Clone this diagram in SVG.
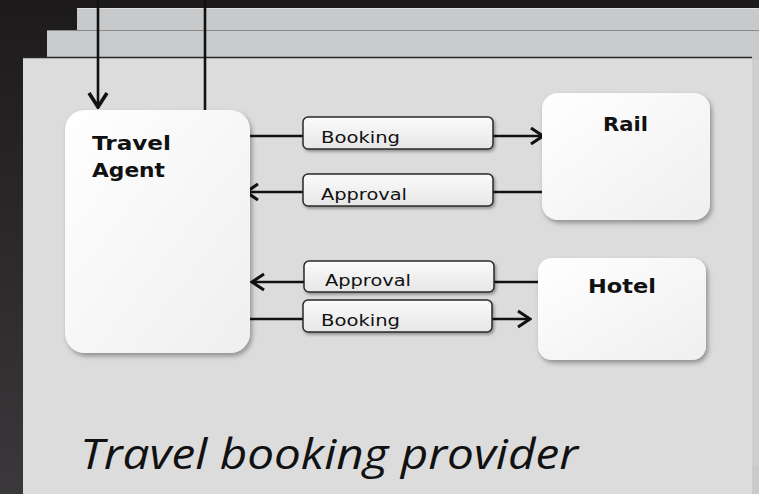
<svg xmlns="http://www.w3.org/2000/svg" width="759" height="494" viewBox="0 0 759 494">
<defs>
<linearGradient id="bg" x1="0" y1="0" x2="0" y2="1">
<stop offset="0" stop-color="#1c1a1b"/><stop offset="1" stop-color="#3a383a"/>
</linearGradient>
<linearGradient id="nodefill" x1="0" y1="0" x2="1" y2="1">
<stop offset="0" stop-color="#ffffff"/><stop offset="1" stop-color="#efefef"/>
</linearGradient>
<linearGradient id="lblfill" x1="0" y1="0" x2="0" y2="1">
<stop offset="0" stop-color="#fbfbfb"/><stop offset="1" stop-color="#e6e6e6"/>
</linearGradient>
<filter id="sh" x="-10%" y="-10%" width="125%" height="125%">
<feDropShadow dx="2" dy="3" stdDeviation="2.5" flood-color="#000" flood-opacity="0.35"/>
</filter>
<filter id="shs" x="-10%" y="-20%" width="120%" height="160%">
<feDropShadow dx="1.5" dy="2" stdDeviation="1.5" flood-color="#000" flood-opacity="0.35"/>
</filter>
<marker id="arr" viewBox="0 0 16 20" refX="14" refY="10" markerWidth="16" markerHeight="20" markerUnits="userSpaceOnUse" orient="auto">
<path d="M2,2 L14,10 L2,18" fill="none" stroke="#111" stroke-width="3"/>
</marker>
<marker id="arrd" viewBox="0 0 18 22" refX="16" refY="11" markerWidth="18" markerHeight="22" markerUnits="userSpaceOnUse" orient="auto">
<path d="M2,2 L16,11 L2,20" fill="none" stroke="#111" stroke-width="3.6"/>
</marker>
</defs>
<style>
.node{fill:url(#nodefill);filter:url(#sh)}
.lbl{fill:url(#lblfill);stroke:#2a2a2a;stroke-width:1.5;filter:url(#shs)}
.nt{font-family:"DejaVu Sans",Verdana,sans-serif;font-weight:bold;font-size:19px;fill:#111}
.lt{font-family:"DejaVu Sans",Verdana,sans-serif;font-size:16px;fill:#111}
.conn{stroke:#111;stroke-width:2.6;fill:none}
.title{font-family:"Open Sans","DejaVu Sans",sans-serif;font-style:italic;font-size:42px;fill:#111}
</style>
<rect width="759" height="494" fill="url(#bg)"/>
<g id="panels">
<rect x="77" y="8" width="682" height="486" fill="#c8c9cb"/>
<line x1="77" y1="8.5" x2="759" y2="8.5" stroke="#e0e0e0" stroke-width="1"/>
<rect x="47" y="30" width="712" height="464" fill="#c9cacc"/>
<line x1="47" y1="30.5" x2="759" y2="30.5" stroke="#8a8a8a" stroke-width="1.2"/>
<rect x="23" y="57" width="729" height="437" fill="#dcdcdc"/>
<line x1="23" y1="57.5" x2="752" y2="57.5" stroke="#2a2a2a" stroke-width="1.5"/>
<rect x="752" y="60" width="7" height="405" fill="#cfcfd1"/>
</g>
<g id="connectors">
<line class="conn" x1="98" y1="0" x2="98" y2="107" stroke-width="4" marker-end="url(#arrd)"/>
<line class="conn" x1="205" y1="0" x2="205" y2="112" stroke-width="4"/>
<line class="conn" x1="250" y1="136" x2="303" y2="136"/>
<line class="conn" x1="493" y1="136" x2="543" y2="136" marker-end="url(#arr)"/>
<line class="conn" x1="542" y1="192" x2="493" y2="192"/>
<line class="conn" x1="303" y1="192" x2="246" y2="192" marker-end="url(#arr)"/>
<line class="conn" x1="538" y1="282" x2="494" y2="282"/>
<line class="conn" x1="304" y1="282" x2="252" y2="282" marker-end="url(#arr)"/>
<line class="conn" x1="250" y1="319" x2="303" y2="319"/>
<line class="conn" x1="492" y1="319" x2="530" y2="319" marker-end="url(#arr)"/>
</g>
<g id="agent">
<rect class="node" x="65" y="110" width="185" height="243" rx="20"/>
<text class="nt" x="92" y="150" textLength="79" lengthAdjust="spacingAndGlyphs">Travel</text>
<text class="nt" x="92" y="177" textLength="73" lengthAdjust="spacingAndGlyphs">Agent</text>
</g>
<g id="rail">
<rect class="node" x="542" y="93" width="168" height="127" rx="16"/>
<text class="nt" x="603" y="131" textLength="45" lengthAdjust="spacingAndGlyphs">Rail</text>
</g>
<g id="hotel">
<rect class="node" x="538" y="258" width="168" height="102" rx="14"/>
<text class="nt" x="588" y="293" textLength="68" lengthAdjust="spacingAndGlyphs">Hotel</text>
</g>
<g id="lbl-booking1">
<rect class="lbl" x="303" y="117" width="190" height="32" rx="5"/>
<text class="lt" x="321" y="143" textLength="79" lengthAdjust="spacingAndGlyphs">Booking</text>
</g>
<g id="lbl-approval1">
<rect class="lbl" x="303" y="174" width="190" height="32" rx="5"/>
<text class="lt" x="321" y="200" textLength="86" lengthAdjust="spacingAndGlyphs">Approval</text>
</g>
<g id="lbl-approval2">
<rect class="lbl" x="304" y="261" width="190" height="31" rx="5"/>
<text class="lt" x="325" y="286" textLength="86" lengthAdjust="spacingAndGlyphs">Approval</text>
</g>
<g id="lbl-booking2">
<rect class="lbl" x="303" y="300" width="189" height="32" rx="5"/>
<text class="lt" x="321" y="326" textLength="79" lengthAdjust="spacingAndGlyphs">Booking</text>
</g>
<g id="caption">
<text class="title" x="80" y="469" textLength="498" lengthAdjust="spacingAndGlyphs">Travel booking provider</text>
</g>
</svg>
